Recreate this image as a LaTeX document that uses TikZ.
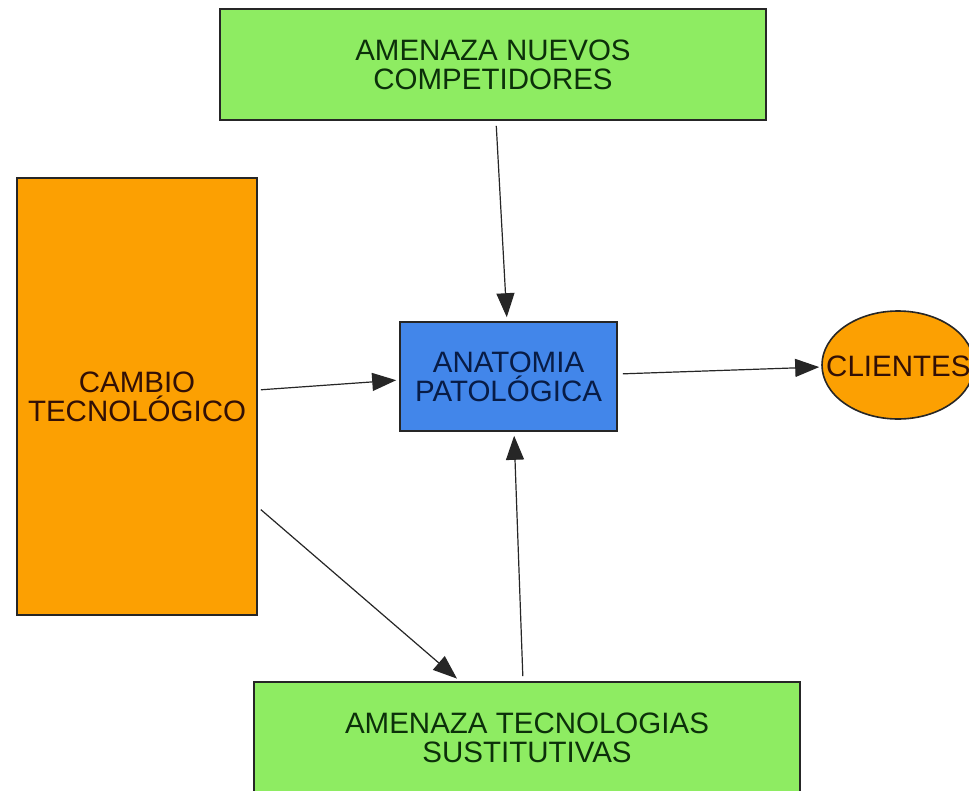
\documentclass[tikz,border=0pt]{standalone}
\usepackage{fontspec}
\setmainfont{Liberation Sans}
\usetikzlibrary{arrows.meta,shapes.geometric,calc}
\definecolor{boxgreen}{RGB}{142,236,98}
\definecolor{boxorange}{RGB}{252,160,2}
\definecolor{boxblue}{RGB}{66,134,234}
\definecolor{txtgreen}{RGB}{12,48,10}
\definecolor{txtorange}{RGB}{50,16,6}
\definecolor{txtblue}{RGB}{8,28,70}
\tikzset{
  box/.style={draw=black!85, line width=1.6pt, inner sep=0pt, align=center,
    font=\fontsize{29.5}{29}\selectfont},
  arr/.style={draw=black!85, line width=1.2pt, -{Triangle[length=24pt,width=18pt]}}
}
\begin{document}
\begin{tikzpicture}[x=1pt,y=-1pt]
\useasboundingbox (0,0) rectangle (969,790);
\clip (0,0) rectangle (969,790);
\fill[white] (0,0) rectangle (969,790);
\node[box, fill=boxgreen, text=txtgreen, minimum width=546pt, minimum height=111pt] (top) at (493,64.5) {AMENAZA NUEVOS\\COMPETIDORES};
\node[box, fill=boxorange, text=txtorange, minimum width=240pt, minimum height=437pt] (orange) at (137,396.5) {CAMBIO\\TECNOLÓGICO};
\node[box, fill=boxblue, text=txtblue, minimum width=217pt, minimum height=109pt] (blue) at (508.5,376.5) {ANATOMIA\\PATOLÓGICA};
\node[box, ellipse, fill=boxorange, minimum width=152pt, minimum height=108pt] (cli) at (898,365) {};
\node[font=\fontsize{29.5}{29}\selectfont, text=txtorange, anchor=west, inner sep=0pt] (clitext) at (826,366) {CLIENTES};
\node[box, fill=boxgreen, text=txtgreen, minimum width=546pt, minimum height=112pt] (bot) at (527,738) {AMENAZA TECNOLOGIAS\\SUSTITUTIVAS};
\draw[arr, shorten <=5pt, shorten >=4pt] ([xshift=3pt]top.south) -- ([xshift=-1.5pt]blue.north);
\draw[arr, shorten <=3pt, shorten >=3pt] ([yshift=6.5pt]orange.east) -- ([yshift=-3.5pt]blue.west);
\draw[arr, shorten <=5pt, shorten >=2pt] ([yshift=2.5pt]blue.east) -- ([yshift=-2pt]cli.west);
\draw[arr, shorten <=4pt, shorten >=4pt] ([yshift=-110.5pt]orange.east) -- ([xshift=-67pt]bot.north);
\draw[arr, shorten <=5pt, shorten >=4pt] ([xshift=-4pt]bot.north) -- ([xshift=5.5pt]blue.south);
\end{tikzpicture}
\end{document}
